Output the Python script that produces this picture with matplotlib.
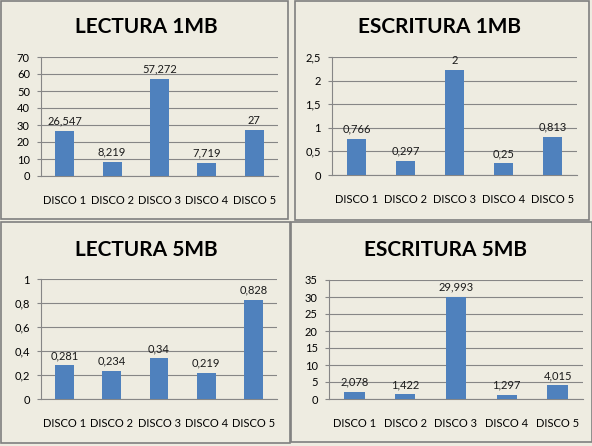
import matplotlib.pyplot as plt
from matplotlib.patches import Rectangle

plt.rcParams['font.family'] = ['Lato', 'DejaVu Sans']

discos = ['DISCO 1', 'DISCO 2', 'DISCO 3', 'DISCO 4', 'DISCO 5']

lectura_1mb = [26.547, 8.219, 57.272, 7.719, 27]
lectura_1mb_lbl = ['26,547', '8,219', '57,272', '7,719', '27']

escritura_1mb = [0.766, 0.297, 2.23, 0.25, 0.813]
escritura_1mb_lbl = ['0,766', '0,297', '2', '0,25', '0,813']

lectura_5mb = [0.281, 0.234, 0.34, 0.219, 0.828]
lectura_5mb_lbl = ['0,281', '0,234', '0,34', '0,219', '0,828']

escritura_5mb = [2.078, 1.422, 29.993, 1.297, 4.015]
escritura_5mb_lbl = ['2,078', '1,422', '29,993', '1,297', '4,015']

bg = '#EEECE1'
bar_col = '#4F81BD'
grid_col = '#868686'

fig = plt.figure(figsize=(5.92, 4.46), dpi=100, facecolor=bg)
W, H = 592, 446

def px_rect(x0, y0, x1, y1):
    # pixel box (top-left origin) -> figure fraction
    return [x0 / W, 1 - y1 / H, (x1 - x0) / W, (y1 - y0) / H]

# panel frames
for x0, y0, x1, y1 in [(0.5, 0.5, 288, 219), (295, 0.5, 589, 220),
                       (0.5, 222, 290, 443), (291, 222, 591.5, 442)]:
    r = Rectangle((x0 / W, 1 - y1 / H), (x1 - x0) / W, (y1 - y0) / H,
                  transform=fig.transFigure, fill=False, ec='#7f7f7f', lw=1.2)
    fig.add_artist(r)

panels = [
    ('LECTURA 1MB', lectura_1mb, lectura_1mb_lbl, (41, 57, 278, 176), 70, 10, 146, 27),
    ('ESCRITURA 1MB', escritura_1mb, escritura_1mb_lbl, (332, 57, 577, 175), 2.5, 0.5, 439, 27),
    ('LECTURA 5MB', lectura_5mb, lectura_5mb_lbl, (41, 279, 277, 399), 1, 0.2, 146, 250),
    ('ESCRITURA 5MB', escritura_5mb, escritura_5mb_lbl, (329, 280, 583, 399), 35, 5, 445, 250),
]

for title, vals, lbls, box, ymax, step, tx, ty in panels:
    ax = fig.add_axes(px_rect(*box))
    ax.set_facecolor(bg)
    x = range(len(discos))
    ax.bar(x, vals, width=0.4, color=bar_col, zorder=3)
    for xi, v, s in zip(x, vals, lbls):
        ax.annotate(s, (xi, v), xytext=(0, 3), textcoords='offset points',
                    ha='center', va='bottom', fontsize=8, color='#1a1a1a', zorder=4)
    ax.set_xlim(-0.5, len(discos) - 0.5)
    ax.set_ylim(0, ymax)
    n = int(round(ymax / step))
    ticks = [i * step for i in range(n + 1)]
    ax.set_yticks(ticks)
    ax.set_yticklabels([f'{t:g}'.replace('.', ',') for t in ticks])
    ax.set_xticks(list(x))
    ax.set_xticklabels(discos)
    ax.yaxis.grid(True, color=grid_col, lw=0.8, zorder=0)
    for s in ['top', 'right']:
        ax.spines[s].set_visible(False)
    for s in ['left', 'bottom']:
        ax.spines[s].set_color(grid_col)
        ax.spines[s].set_linewidth(0.8)
    ax.tick_params(axis='y', length=3, width=0.8, color=grid_col, pad=5, labelsize=8)
    ax.tick_params(axis='x', length=0, pad=14, labelsize=8)
    fig.text(tx / W, 1 - ty / H, title, ha='center', va='center',
             fontsize=15, fontweight='bold', color='black')

fig.savefig('out.png', dpi=100, facecolor=bg)
